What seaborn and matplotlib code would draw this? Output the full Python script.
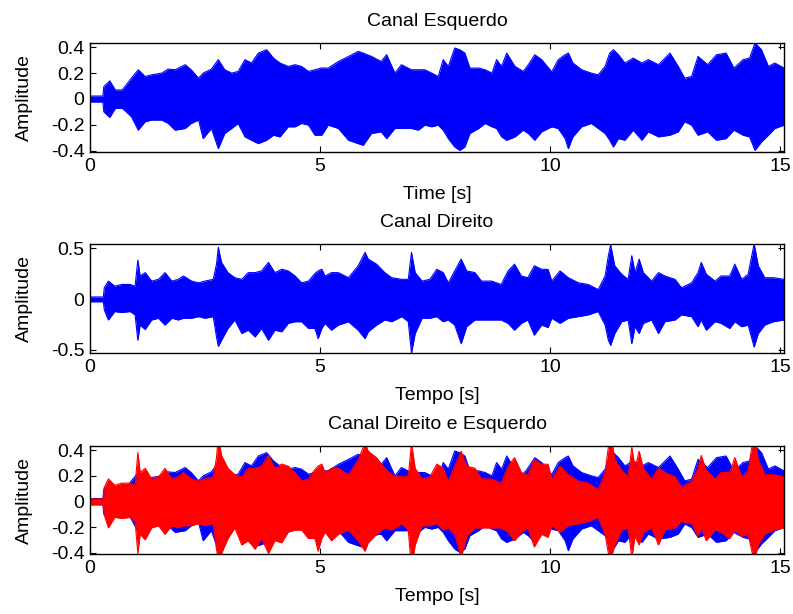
import numpy as np
import pandas as pd
import seaborn as sns
import matplotlib
matplotlib.use("Agg")
import matplotlib.pyplot as plt

# ---- Data: amplitude envelopes (time in s) ----
t_left = [0.0, 0.28, 0.30, 0.43, 0.55, 0.70, 0.76, 0.90, 1.05, 1.20, 1.34, 1.56, 1.70, 1.85,
          2.07, 2.20, 2.36, 2.46, 2.64, 2.79, 2.93, 3.08, 3.22, 3.37, 3.51, 3.66, 3.84, 3.99,
          4.13, 4.31, 4.46, 4.60, 4.75, 4.89, 5.04, 5.18, 5.40, 5.62, 5.83, 5.94, 6.12, 6.33,
          6.45, 6.63, 6.77, 6.99, 7.14, 7.28, 7.43, 7.57, 7.68, 7.79, 7.93, 8.04, 8.15, 8.26,
          8.45, 8.59, 8.74, 8.84, 8.95, 9.06, 9.24, 9.42, 9.53, 9.67, 9.82, 10.04, 10.18,
          10.33, 10.40, 10.50, 10.69, 10.90, 11.05, 11.20, 11.30, 11.38, 11.49, 11.63, 11.81,
          12.00, 12.14, 12.36, 12.61, 12.79, 12.93, 13.08, 13.22, 13.43, 13.62, 13.83, 14.00,
          14.20, 14.34, 14.46, 14.60, 14.75, 14.89, 15.09]
up_left = [0.023, 0.023, 0.096, 0.14, 0.07, 0.07, 0.096, 0.161, 0.226, 0.174, 0.187, 0.2, 0.231,
           0.226, 0.265, 0.226, 0.161, 0.2, 0.231, 0.304, 0.226, 0.2, 0.213, 0.304, 0.278, 0.355,
           0.381, 0.316, 0.278, 0.252, 0.265, 0.252, 0.213, 0.226, 0.24, 0.239, 0.29, 0.329,
           0.368, 0.355, 0.329, 0.29, 0.342, 0.2, 0.265, 0.226, 0.226, 0.226, 0.2, 0.174, 0.304,
           0.252, 0.394, 0.381, 0.355, 0.239, 0.239, 0.226, 0.2, 0.304, 0.252, 0.355, 0.252,
           0.213, 0.265, 0.342, 0.304, 0.21, 0.304, 0.342, 0.355, 0.278, 0.226, 0.2, 0.187,
           0.252, 0.355, 0.381, 0.342, 0.278, 0.316, 0.278, 0.304, 0.265, 0.355, 0.252, 0.161,
           0.174, 0.329, 0.265, 0.342, 0.355, 0.239, 0.304, 0.316, 0.433, 0.381, 0.252, 0.278,
           0.239]
lo_left = [-0.023, -0.023, -0.099, -0.143, -0.073, -0.073, -0.09, -0.137, -0.241, -0.176, -0.163,
           -0.163, -0.189, -0.241, -0.228, -0.189, -0.163, -0.306, -0.228, -0.384, -0.267, -0.228,
           -0.189, -0.293, -0.319, -0.345, -0.319, -0.28, -0.293, -0.215, -0.215, -0.189, -0.202,
           -0.28, -0.28, -0.202, -0.228, -0.319, -0.345, -0.358, -0.267, -0.254, -0.306, -0.228,
           -0.228, -0.228, -0.241, -0.202, -0.215, -0.202, -0.241, -0.306, -0.371, -0.397, -0.371,
           -0.267, -0.228, -0.189, -0.215, -0.228, -0.293, -0.319, -0.293, -0.241, -0.267, -0.319,
           -0.254, -0.215, -0.228, -0.306, -0.384, -0.293, -0.215, -0.189, -0.228, -0.267, -0.319,
           -0.371, -0.306, -0.319, -0.241, -0.319, -0.254, -0.293, -0.28, -0.254, -0.176, -0.202,
           -0.28, -0.254, -0.319, -0.306, -0.241, -0.28, -0.293, -0.397, -0.332, -0.28, -0.228,
           -0.202]

t_right = [0.0, 0.29, 0.31, 0.40, 0.54, 0.69, 0.87, 0.98, 1.04, 1.09, 1.20, 1.34, 1.49, 1.63,
           1.78, 1.92, 2.03, 2.21, 2.36, 2.50, 2.68, 2.75, 2.79, 2.86, 3.00, 3.15, 3.30, 3.44,
           3.59, 3.73, 3.88, 4.02, 4.17, 4.31, 4.46, 4.60, 4.75, 4.89, 4.96, 5.04, 5.11, 5.25,
           5.40, 5.62, 5.83, 5.98, 6.05, 6.23, 6.41, 6.56, 6.78, 6.92, 6.99, 7.07, 7.22, 7.39,
           7.54, 7.68, 7.79, 7.93, 8.07, 8.19, 8.37, 8.51, 8.73, 8.94, 9.09, 9.23, 9.38, 9.52,
           9.66, 9.82, 9.96, 10.04, 10.22, 10.40, 10.62, 10.83, 11.05, 11.20, 11.27, 11.32,
           11.41, 11.56, 11.70, 11.78, 11.85, 11.94, 12.03, 12.21, 12.36, 12.50, 12.72, 12.86,
           13.08, 13.22, 13.29, 13.40, 13.59, 13.72, 13.91, 14.02, 14.17, 14.31, 14.44, 14.53,
           14.67, 14.86, 15.09]
up_right = [0.02, 0.02, 0.11, 0.176, 0.126, 0.143, 0.143, 0.126, 0.382, 0.226, 0.259, 0.176,
            0.193, 0.259, 0.176, 0.193, 0.226, 0.176, 0.159, 0.176, 0.193, 0.342, 0.508, 0.359,
            0.259, 0.209, 0.193, 0.259, 0.259, 0.276, 0.359, 0.259, 0.292, 0.276, 0.226, 0.159,
            0.176, 0.25, 0.276, 0.292, 0.226, 0.259, 0.259, 0.209, 0.326, 0.458, 0.392, 0.342,
            0.259, 0.209, 0.193, 0.193, 0.458, 0.259, 0.176, 0.193, 0.292, 0.259, 0.159, 0.276,
            0.392, 0.276, 0.259, 0.176, 0.176, 0.143, 0.276, 0.342, 0.226, 0.209, 0.326, 0.292,
            0.29, 0.176, 0.276, 0.209, 0.159, 0.143, 0.093, 0.226, 0.425, 0.532, 0.326, 0.243,
            0.193, 0.425, 0.259, 0.392, 0.259, 0.176, 0.259, 0.226, 0.193, 0.11, 0.159, 0.259,
            0.359, 0.243, 0.176, 0.226, 0.226, 0.342, 0.193, 0.243, 0.542, 0.326, 0.209, 0.209,
            0.193]
lo_right = [-0.027, -0.027, -0.106, -0.206, -0.123, -0.133, -0.123, -0.156, -0.405, -0.256,
            -0.299, -0.206, -0.189, -0.256, -0.189, -0.206, -0.189, -0.189, -0.173, -0.189,
            -0.173, -0.372, -0.465, -0.405, -0.289, -0.206, -0.339, -0.306, -0.372, -0.289,
            -0.405, -0.306, -0.322, -0.239, -0.223, -0.223, -0.289, -0.289, -0.389, -0.289,
            -0.239, -0.306, -0.256, -0.223, -0.306, -0.389, -0.322, -0.256, -0.206, -0.223,
            -0.173, -0.223, -0.532, -0.339, -0.189, -0.189, -0.173, -0.223, -0.206, -0.256,
            -0.439, -0.272, -0.206, -0.206, -0.206, -0.206, -0.239, -0.306, -0.239, -0.206,
            -0.355, -0.256, -0.28, -0.189, -0.239, -0.189, -0.173, -0.156, -0.123, -0.256,
            -0.405, -0.455, -0.339, -0.223, -0.206, -0.439, -0.272, -0.339, -0.239, -0.206,
            -0.339, -0.223, -0.206, -0.156, -0.173, -0.272, -0.206, -0.306, -0.223, -0.239,
            -0.289, -0.223, -0.272, -0.256, -0.472, -0.339, -0.256, -0.223, -0.206]

titles = ["Canal Esquerdo", "Canal Direito", "Canal Direito e Esquerdo"]
xlabels = ["Time [s]", "Tempo [s]", "Tempo [s]"]
xticks = [0, 5, 10, 15]
yticks_lr = [-0.4, -0.2, 0, 0.2, 0.4]
yticks_mid = [-0.5, 0, 0.5]

# ---- Style ----
sns.set_style("ticks")
plt.rcParams['font.family'] = ['Liberation Sans', 'DejaVu Sans']
plt.rcParams['axes.unicode_minus'] = False
plt.rcParams['text.color'] = 'black'
plt.rcParams['axes.labelcolor'] = 'black'
FS = 14

fig = plt.figure(figsize=(7.93, 6.14), dpi=100)
positions = [[0.1135, 0.7524, 0.8752, 0.1776],
             [0.1135, 0.4251, 0.8752, 0.1775],
             [0.1135, 0.0977, 0.8752, 0.1759]]
axs = [fig.add_axes(p) for p in positions]

left_df = pd.DataFrame({"t": t_left, "up": up_left, "lo": lo_left})
right_df = pd.DataFrame({"t": t_right, "up": up_right, "lo": lo_right})


def draw(ax, df, color, z):
    ax.fill_between(df["t"], df["lo"], df["up"], color=color, lw=0, zorder=z)
    sns.lineplot(data=df, x="t", y="up", ax=ax, color=color, lw=0.8, zorder=z)
    sns.lineplot(data=df, x="t", y="lo", ax=ax, color=color, lw=0.8, zorder=z)


draw(axs[0], left_df, "#0000ff", 1)
draw(axs[1], right_df, "#0000ff", 1)
draw(axs[2], left_df, "#0000ff", 1)
draw(axs[2], right_df, "#ff0000", 2)

ylims = [(-0.41, 0.433), (-0.53, 0.54), (-0.41, 0.433)]
yts = [yticks_lr, yticks_mid, yticks_lr]
for ax, title, xl, yl, yt in zip(axs, titles, xlabels, ylims, yts):
    ax.set_xlim(0, 15.09)
    ax.set_ylim(*yl)
    ax.set_xticks(xticks)
    ax.set_xticklabels([str(v) for v in xticks])
    ax.set_yticks(yt)
    ax.set_yticklabels([("%g" % v) for v in yt])
    ax.tick_params(direction="in", length=4, width=0.8, top=True, right=True,
                   labelsize=FS, colors="black", pad=4)
    for s in ax.spines.values():
        s.set_visible(True)
        s.set_linewidth(1.0)
        s.set_color("black")
        s.set_zorder(5)
    ax.set_title(title, fontsize=FS, pad=12.5, color="black")
    ax.set_xlabel(xl, fontsize=FS, labelpad=8.5, color="black")
    ax.set_ylabel("Amplitude", fontsize=FS, labelpad=13, color="black")
    ax.set_facecolor("white")

fig.savefig("out.png", dpi=100, facecolor="white")
